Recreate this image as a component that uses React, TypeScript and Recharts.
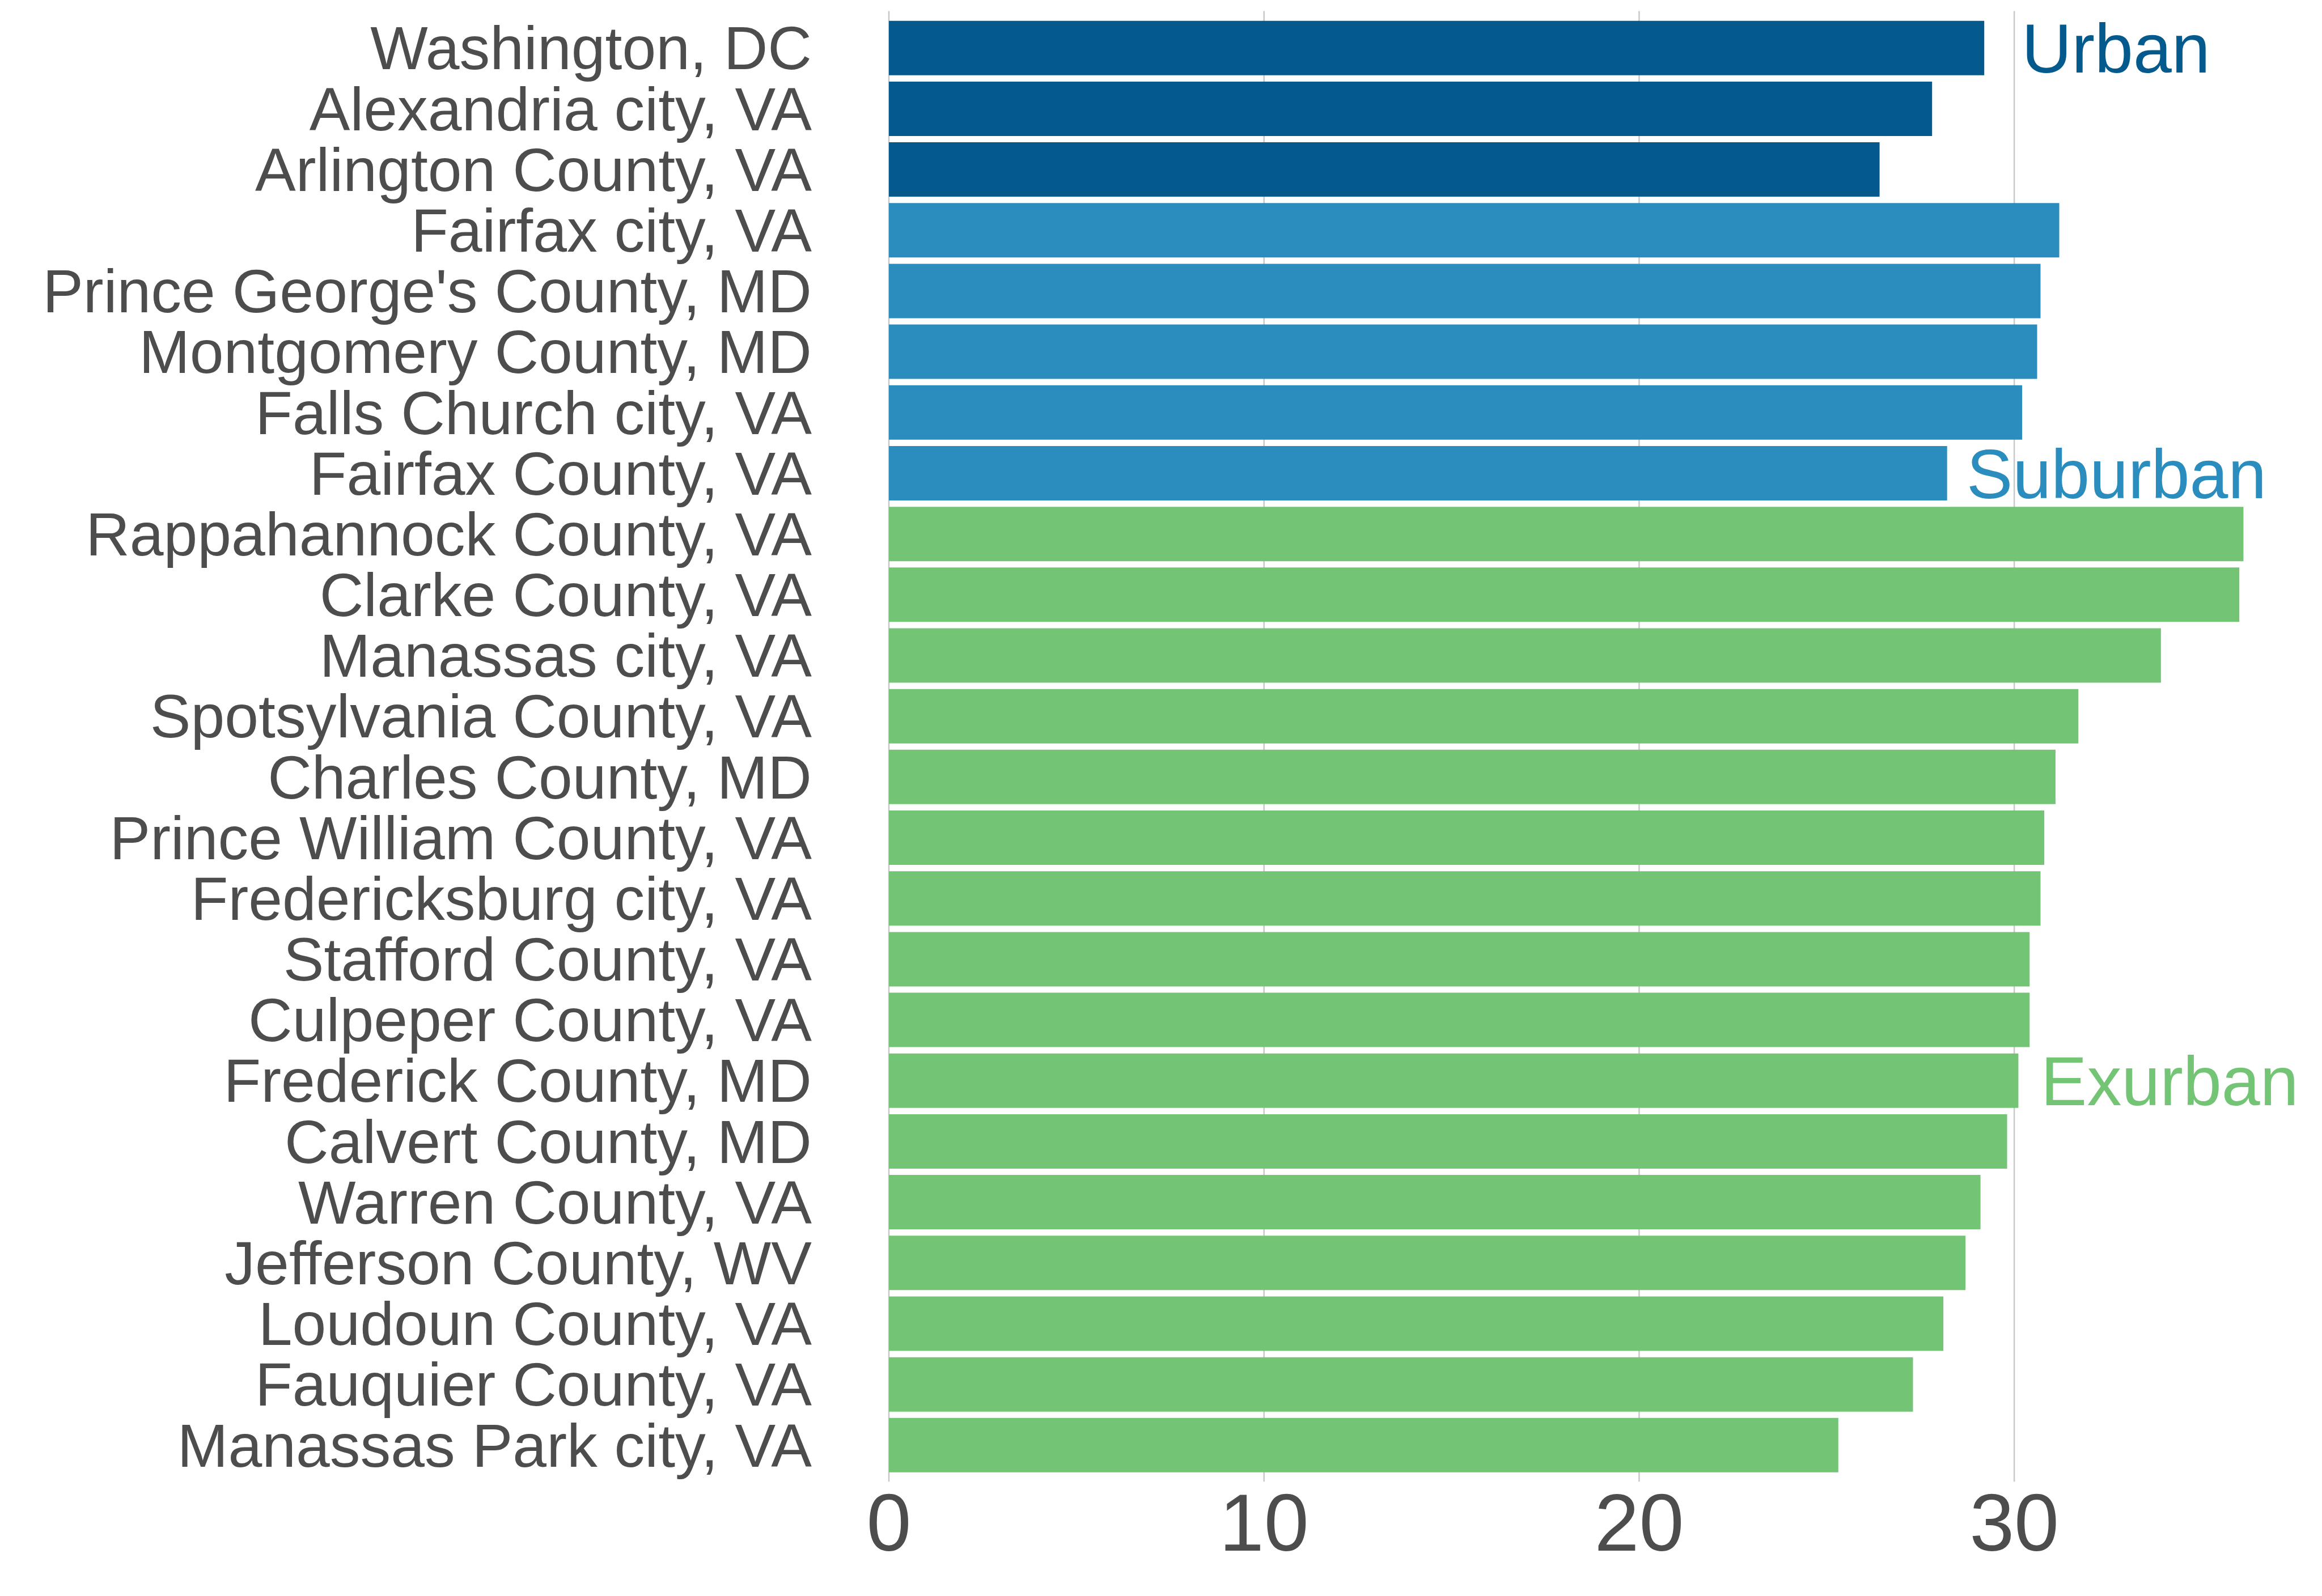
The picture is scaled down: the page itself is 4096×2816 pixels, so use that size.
import React from 'react';
import { BarChart, Bar, XAxis, YAxis, CartesianGrid, Cell, LabelList } from 'recharts';

const categories = [
  'Washington, DC',
  'Alexandria city, VA',
  'Arlington County, VA',
  'Fairfax city, VA',
  "Prince George's County, MD",
  'Montgomery County, MD',
  'Falls Church city, VA',
  'Fairfax County, VA',
  'Rappahannock County, VA',
  'Clarke County, VA',
  'Manassas city, VA',
  'Spotsylvania County, VA',
  'Charles County, MD',
  'Prince William County, VA',
  'Fredericksburg city, VA',
  'Stafford County, VA',
  'Culpeper County, VA',
  'Frederick County, MD',
  'Calvert County, MD',
  'Warren County, VA',
  'Jefferson County, WV',
  'Loudoun County, VA',
  'Fauquier County, VA',
  'Manassas Park city, VA',
];

const values = [
  29.2, 27.81, 26.41,
  31.2, 30.7, 30.61, 30.21, 28.21,
  36.11, 36.0, 33.91, 31.71, 31.1, 30.8, 30.7, 30.41, 30.41, 30.11, 29.81, 29.1, 28.7, 28.11, 27.3, 25.31,
];

const groups = [
  'Urban', 'Urban', 'Urban',
  'Suburban', 'Suburban', 'Suburban', 'Suburban', 'Suburban',
  'Exurban', 'Exurban', 'Exurban', 'Exurban', 'Exurban', 'Exurban', 'Exurban', 'Exurban',
  'Exurban', 'Exurban', 'Exurban', 'Exurban', 'Exurban', 'Exurban', 'Exurban', 'Exurban',
];

const xTicks = [0, 10, 20, 30];
const X_MAX = 38;

// group annotations: which row carries the label, and where the text starts (in axis units)
const groupLabels = ['Urban', 'Suburban', 'Exurban'];
const groupLabelRows = ['Washington, DC', 'Fairfax County, VA', 'Frederick County, MD'];
const groupLabelAt = [30.2, 28.73, 30.71];

const COLORS: Record<string, string> = {
  Urban: '#045a8d',
  Suburban: '#2b8cbe',
  Exurban: '#74c476',
};

const FONT = '"Liberation Sans", Arial, Helvetica, sans-serif';
const TEXT = '#4d4d4d';
const LABEL_SIZE = 122;

const data = categories.map((name, i) => ({ name, value: values[i], group: groups[i] }));

const GroupLabel = (props: any) => {
  const vb = props.viewBox || {};
  const x = props.x ?? vb.x;
  const y = props.y ?? vb.y;
  const width = props.width ?? vb.width;
  const height = props.height ?? vb.height;
  const row = data[props.index];
  if (!row) return null;
  const k = groupLabelRows.indexOf(row.name);
  if (k < 0) return null;
  const perUnit = width / row.value;
  return (
    <text
      x={x + groupLabelAt[k] * perUnit}
      y={y + height / 2 + 0.358 * LABEL_SIZE}
      fill={COLORS[groupLabels[k]]}
      fontSize={LABEL_SIZE}
      fontFamily={FONT}
    >
      {groupLabels[k]}
    </text>
  );
};

// only draw grid lines at the tick values (no line at the domain end)
const gridX = (args: any) => {
  const xAxis = args?.xAxis;
  if (xAxis && typeof xAxis.scale === 'function') return xTicks.map((t) => xAxis.scale(t));
  const off = args?.offset;
  if (!off) return [];
  return xTicks.map((t) => off.left + (t / X_MAX) * off.width);
};

export default function App() {
  return (
    <div style={{ position: 'absolute', left: 0, top: 0, width: 4096, height: 2816, background: '#fff' }}>
      <BarChart
        width={4096}
        height={2816}
        data={data}
        layout="vertical"
        margin={{ top: 19.4, right: 13.5, bottom: 0, left: 0 }}
      >
        <CartesianGrid
          horizontal={false}
          stroke="#c8c8c8"
          strokeWidth={2.5}
          verticalCoordinatesGenerator={gridX}
        />
        <XAxis
          type="number"
          domain={[0, X_MAX]}
          ticks={xTicks}
          height={201.7}
          axisLine={false}
          tickLine={false}
          tickSize={0}
          tickMargin={21}
          tick={{ fill: TEXT, fontSize: 142, fontFamily: FONT }}
        />
        <YAxis
          type="category"
          dataKey="name"
          width={1568}
          padding={{ top: 11.3, bottom: 11.3 }}
          axisLine={false}
          tickLine={false}
          tickSize={0}
          tickMargin={136}
          interval={0}
          tick={{ fill: TEXT, fontSize: 107.5, fontFamily: FONT }}
        />
        <Bar dataKey="value" barSize={96} isAnimationActive={false}>
          {data.map((d, i) => (
            <Cell key={`cell-${i}`} fill={COLORS[d.group]} />
          ))}
          <LabelList dataKey="value" content={GroupLabel} />
        </Bar>
      </BarChart>
    </div>
  );
}
